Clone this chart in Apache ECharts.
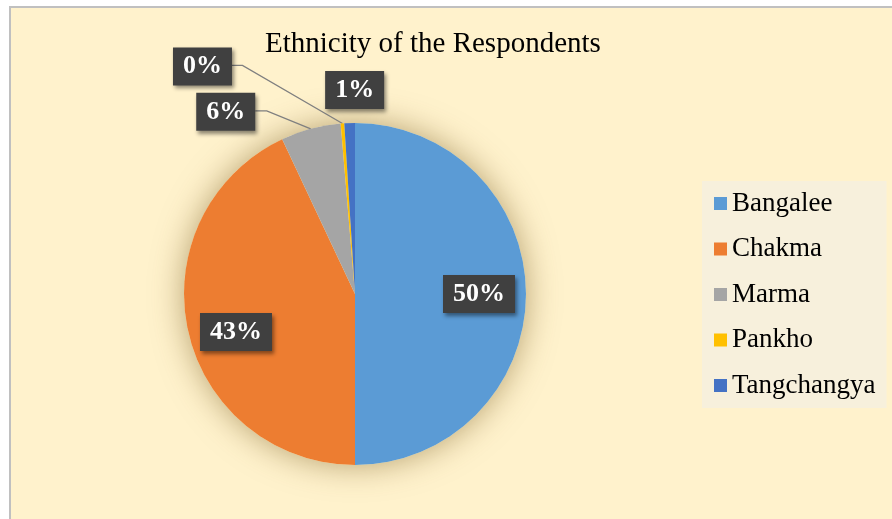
<!DOCTYPE html>
<html>
<head>
<meta charset="utf-8">
<script src="https://cdn.jsdelivr.net/npm/echarts@6/dist/echarts.min.js"></script>
<style>
  html, body { margin: 0; padding: 0; background: #ffffff; overflow: hidden; }
  #frame {
    position: absolute; left: 9px; top: 6px; width: 900px; height: 530px;
    background: #fff2cc; border-left: 2px solid #c0c0c0; border-top: 2px solid #c0c0c0;
    box-sizing: border-box;
  }
  #chart { position: absolute; left: 0; top: 0; width: 892px; height: 519px; }
</style>
</head>
<body>
<div id="frame"></div>
<div id="chart"></div>
<script>
// Respondents by ethnic group
const categories = ['Bangalee', 'Chakma', 'Marma', 'Pankho', 'Tangchangya'];
const respondents = [150, 129, 17, 1, 3];
const sliceColors = ['#5b9bd5', '#ed7d31', '#a5a5a5', '#ffc000', '#4472c4'];

const serif = "'Liberation Serif', 'Times New Roman', serif";
const total = respondents.reduce((a, b) => a + b, 0);
const pctText = v => Math.round(v / total * 100) + '%';
const isSmall = v => v / total < 0.1;

const CENTER = [355, 294];
const R = 171;

// dark callout box used for every percentage label
const labelBox = {
  color: '#ffffff', fontFamily: serif, fontWeight: 'bold', fontSize: 26, lineHeight: 26,
  backgroundColor: '#404040', padding: [6, 10, 6, 10],
  shadowColor: 'rgba(0,0,0,0.45)', shadowBlur: 4, shadowOffsetX: 2, shadowOffsetY: 3,
  formatter: p => pctText(p.value)
};

// callouts for the thin slices, offset from the slice's edge anchor
const callouts = {
  Marma: { label: [-85, -17], elbow: [-44, -18] },
  Pankho: { label: [-140, -57], elbow: [-100, -58] },
  Tangchangya: { label: [5, -33] }
};
// small nudges for the labels inside the large slices
const insideNudge = { Chakma: [2, 11] };

const chart = echarts.init(document.getElementById('chart'), null, { renderer: 'canvas' });

chart.setOption({
  animation: false,
  backgroundColor: 'transparent',
  title: {
    text: 'Ethnicity of the Respondents',
    left: 265, top: 30, padding: 0,
    textStyle: { fontFamily: serif, fontSize: 29, fontWeight: 'normal', color: '#000000' }
  },
  legend: {
    data: categories,
    orient: 'vertical',
    left: 702, top: 181,
    itemWidth: 13, itemHeight: 13, itemGap: 18.5,
    icon: 'rect',
    backgroundColor: '#f7f0dc',
    padding: [9, 11, 9, 12],
    selectedMode: false,
    textStyle: { fontFamily: serif, fontSize: 27, lineHeight: 27, color: '#000000' }
  },
  series: [
    {
      // soft shadow disc beneath the pie
      type: 'pie', center: CENTER, radius: R, silent: true, z: 1,
      data: [{ value: 1, name: 'base' }],
      itemStyle: { color: '#fff2cc', shadowBlur: 32, shadowColor: 'rgba(110,80,20,0.5)' },
      label: { show: false }, labelLine: { show: false }
    },
    {
      type: 'pie', center: CENTER, radius: R, z: 2,
      startAngle: 90, clockwise: true, avoidLabelOverlap: false,
      emphasis: { disabled: true },
      itemStyle: { borderWidth: 0 },
      data: categories.map((n, i) => ({
        name: n, value: respondents[i],
        itemStyle: { color: sliceColors[i] },
        label: { show: isSmall(respondents[i]) },
        labelLine: { show: isSmall(respondents[i]) }
      })),
      label: Object.assign({ position: 'outside' }, labelBox),
      labelLine: { length: 10, length2: 10, lineStyle: { color: '#7f7f7f', width: 1.3 } },
      labelLayout: function (p) {
        const c = callouts[categories[p.dataIndex]];
        if (!c || !p.labelLinePoints) return {};
        const a = p.labelLinePoints[0];
        const lx = a[0] + c.label[0];
        const ly = a[1] + c.label[1];
        let pts;
        if (c.elbow) {
          const ex = a[0] + c.elbow[0], ey = a[1] + c.elbow[1];
          pts = [[a[0], a[1]], [ex, ey], [lx + p.labelRect.width / 2, ey]];
        } else {
          pts = [[a[0], a[1]], [a[0], a[1]], [a[0], a[1]]];
        }
        return { x: lx, y: ly, align: 'center', verticalAlign: 'middle', labelLinePoints: pts };
      }
    },
    {
      // label ring for the large slices
      type: 'pie', center: CENTER, radius: [71, R], z: 3, silent: true,
      startAngle: 90, clockwise: true,
      emphasis: { disabled: true },
      data: categories.map((n, i) => ({
        name: n, value: respondents[i],
        label: { show: !isSmall(respondents[i]) }
      })),
      itemStyle: { color: 'rgba(0,0,0,0)' },
      label: Object.assign({ position: 'inside' }, labelBox),
      labelLine: { show: false },
      labelLayout: function (p) {
        const n = insideNudge[categories[p.dataIndex]];
        return n ? { dx: n[0], dy: n[1] } : {};
      }
    }
  ]
});
</script>
</body>
</html>
